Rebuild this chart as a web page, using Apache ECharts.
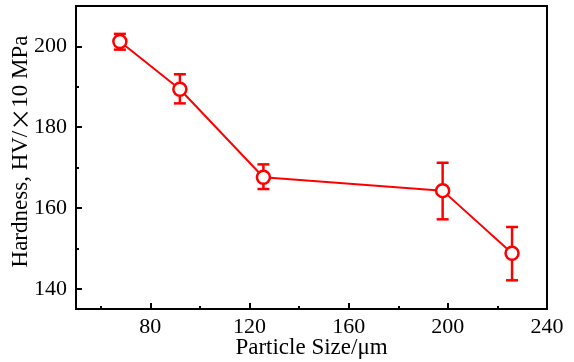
<!DOCTYPE html>
<html><head><meta charset="utf-8">
<script src="https://cdn.jsdelivr.net/npm/echarts@6/dist/echarts.min.js"></script>
<style>html,body{margin:0;padding:0;background:#fff}#c{width:574px;height:362px}</style>
</head><body><div id="c"></div>
<script>
const sizes = [67.7, 91.9, 125.6, 197.9, 225.9];
const hardness = [201.2, 189.4, 167.6, 164.3, 148.8];
const errLow = [199.2, 185.9, 164.7, 157.2, 142.1];
const errHigh = [203.1, 193.1, 170.8, 171.2, 155.3];
const xTicks = [80, 120, 160, 200, 240];
const xMinorTicks = [60, 100, 140, 180, 220];
const yTicks = [140, 160, 180, 200];
const yMinorTicks = [150, 170, 190];
const xTitle = 'Particle Size/μm';
const yTitleParts = ['Hardness, HV/', '×', '10 MPa'];

const font = 'Liberation Serif';
const chart = echarts.init(document.getElementById('c'));
const lineData = sizes.map((s, i) => [s, hardness[i]]);
const errData = sizes.map((s, i) => [s, errLow[i], errHigh[i]]);
const axLine = {show: true, onZero: false, lineStyle: {color: '#000', width: 2}};
chart.setOption({
  animation: false,
  grid: {left: 76, right: 27, top: 6, bottom: 53, show: true, borderColor: '#000', borderWidth: 2,
    containLabel: false, outerBoundsMode: 'none'},
  xAxis: [{
    type: 'value', min: 50, max: 240,
    axisLine: axLine,
    axisTick: {show: true, inside: true, length: 6, customValues: xTicks, lineStyle: {color: '#000', width: 2}},
    splitLine: {show: false},
    axisLabel: {color: '#000', fontFamily: font, fontSize: 22, margin: 7, customValues: xTicks},
    name: xTitle, nameLocation: 'middle', nameGap: 27, nameMoveOverlap: false,
    nameTextStyle: {color: '#000', fontFamily: font, fontSize: 23}
  }, {
    type: 'value', min: 50, max: 240, position: 'bottom',
    axisLine: {show: false},
    axisTick: {show: true, inside: true, length: 3, customValues: xMinorTicks, lineStyle: {color: '#000', width: 2}},
    axisLabel: {show: false}, splitLine: {show: false}
  }],
  yAxis: [{
    type: 'value', min: 135, max: 210,
    axisLine: axLine,
    axisTick: {show: true, inside: true, length: 6, customValues: yTicks, lineStyle: {color: '#000', width: 2}},
    splitLine: {show: false},
    axisLabel: {color: '#000', fontFamily: font, fontSize: 22, margin: 9, customValues: yTicks},
    name: '{a|' + yTitleParts[0] + '}{b|' + yTitleParts[1] + '}{a|' + yTitleParts[2] + '}',
    nameLocation: 'middle', nameGap: 44, nameMoveOverlap: false,
    nameTextStyle: {color: '#000', fontFamily: font, fontSize: 23, padding: [0, 0, 0, 12],
      rich: {
        a: {fontFamily: font, fontSize: 23, color: '#000'},
        b: {fontFamily: 'Noto Sans CJK SC', fontSize: 23, color: '#000'}
      }}
  }, {
    type: 'value', min: 135, max: 210, position: 'left',
    axisLine: {show: false},
    axisTick: {show: true, inside: true, length: 3, customValues: yMinorTicks, lineStyle: {color: '#000', width: 2}},
    axisLabel: {show: false}, splitLine: {show: false}
  }],
  series: [
    {
      type: 'custom', z: 3,
      data: errData,
      encode: {x: 0, y: [1, 2]},
      renderItem: function (params, api) {
        const x = api.value(0);
        const lo = api.coord([x, api.value(1)]);
        const hi = api.coord([x, api.value(2)]);
        const w = 6;
        const st = {stroke: '#ff0000', lineWidth: 2.5, fill: null};
        return {type: 'group', children: [
          {type: 'line', shape: {x1: lo[0], y1: lo[1], x2: hi[0], y2: hi[1]}, style: st},
          {type: 'line', shape: {x1: lo[0] - w, y1: lo[1], x2: lo[0] + w, y2: lo[1]}, style: st},
          {type: 'line', shape: {x1: hi[0] - w, y1: hi[1], x2: hi[0] + w, y2: hi[1]}, style: st}
        ]};
      }
    },
    {
      type: 'line', z: 4,
      data: lineData,
      symbol: 'circle', symbolSize: 13,
      lineStyle: {color: '#ff0000', width: 2},
      itemStyle: {color: '#fff', borderColor: '#ff0000', borderWidth: 2.5}
    }
  ]
});
</script></body></html>
